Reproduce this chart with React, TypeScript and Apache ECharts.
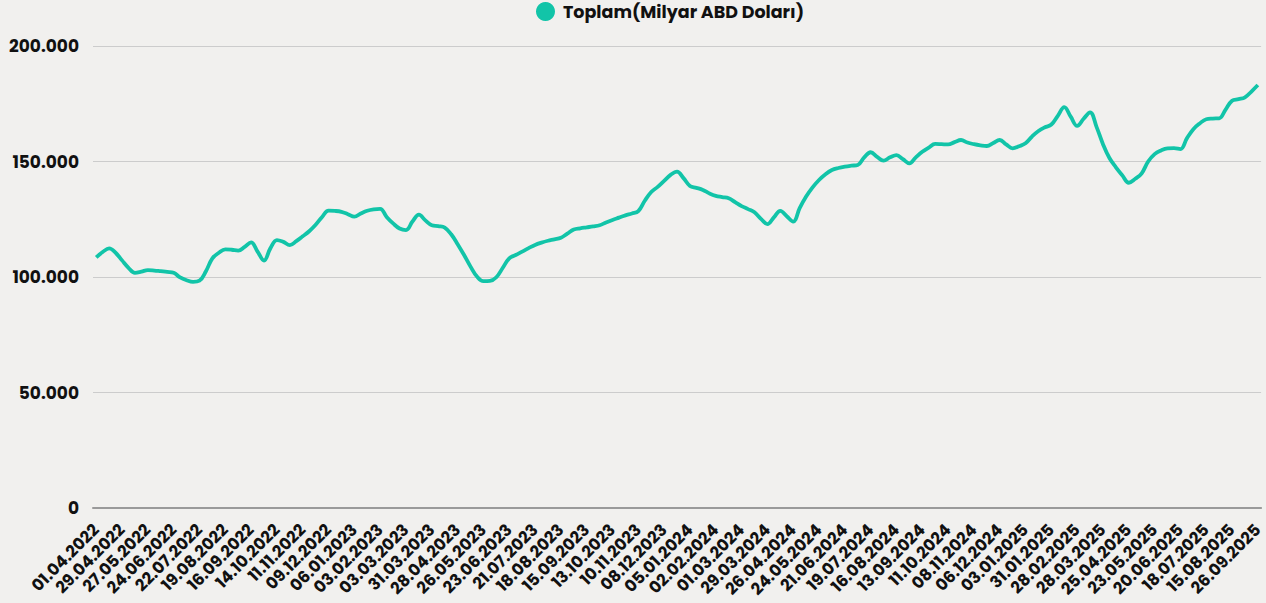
import React, { useEffect, useRef } from "react";
import * as echarts from "echarts";

const seriesName = "Toplam(Milyar ABD Doları)";

// weekly dates from 01.04.2022 to 15.08.2025, then the remaining report dates
const extraDates = ["22.08.2025", "05.09.2025", "19.09.2025", "26.09.2025"];

function buildDates(): string[] {
  const out: string[] = [];
  const d = new Date(Date.UTC(2022, 3, 1));
  const end = new Date(Date.UTC(2025, 7, 15));
  while (d.getTime() <= end.getTime()) {
    const dd = String(d.getUTCDate()).padStart(2, "0");
    const mm = String(d.getUTCMonth() + 1).padStart(2, "0");
    out.push(`${dd}.${mm}.${d.getUTCFullYear()}`);
    d.setUTCDate(d.getUTCDate() + 7);
  }
  return out.concat(extraDates);
}

const categories = buildDates();

const totals = [
  108500, 110800, 112400, 110500, 107200, 104000, 101800, 102300, 103000, 102800,
  102500, 102200, 101800, 99800, 98600, 97900, 98400, 102500, 108100, 110500,
  112000, 111800, 111400, 113000, 115000, 111000, 107100, 112500, 116000, 115200,
  113800, 115500, 117600, 119800, 122600, 126000, 128700, 128600, 128200, 127200,
  126100, 127500, 128700, 129300, 129500, 126000, 123200, 121000, 120300, 124000,
  127000, 124500, 122400, 122000, 121400, 118500, 114200, 109500, 104500, 100200,
  98200, 98300, 99900, 104000, 108100, 109500, 111000, 112500, 113900, 114900,
  115700, 116300, 117000, 118800, 120600, 121100, 121500, 121900, 122400, 123600,
  124700, 125700, 126700, 127500, 128500, 133000, 136800, 139000, 141600, 144200,
  145600, 142800, 139400, 138600, 137700, 136200, 135100, 134600, 134100, 132400,
  130700, 129400, 128000, 125200, 122900, 125800, 128600, 126300, 124000, 129800,
  134800, 138800, 142000, 144500, 146300, 147200, 147800, 148200, 148500, 151800,
  154000, 152000, 150400, 151800, 152800, 151000, 149200, 151800, 154200, 156000,
  157600, 157500, 157400, 158400, 159300, 158200, 157500, 157000, 156700, 158000,
  159300, 157400, 155700, 156600, 157900, 160800, 163200, 164800, 166000, 169800,
  173500, 169400, 165400, 168500, 171300, 165000, 157500, 151500, 147500, 144000,
  140800, 142500, 144900, 150000, 153200, 154800, 155700, 155800, 155400, 160000,
  164000, 166500, 168300, 168600, 168700, 172500, 176300, 177000, 177800, 180300,
  183100,
];

const yMin = 0;
const yMax = 200000;
const yStep = 50000;

const FONT = "Poppins, 'Open Sans', 'Noto Sans', sans-serif";

function fmt(v: number): string {
  return String(Math.round(v)).replace(/\B(?=(\d{3})+(?!\d))/g, ".");
}

export default function App() {
  const ref = useRef<HTMLDivElement>(null);
  useEffect(() => {
    document.body.style.margin = "0";
    const chart = echarts.init(ref.current!, null, { renderer: "svg" });
    chart.setOption({
      animation: false,
      backgroundColor: "#f1f0ee",
      legend: {
        top: 2,
        left: 536,
        padding: 0,
        icon: "circle",
        itemWidth: 19,
        itemHeight: 19,
        itemGap: 10,
        textStyle: { fontFamily: FONT, fontSize: 17.5, fontWeight: "bold", color: "#111", padding: [0, 0, 0, 3] },
        data: [seriesName],
      },
      grid: { left: 93, right: 4, top: 46, bottom: 95 },
      xAxis: {
        type: "category",
        data: categories,
        boundaryGap: true,
        axisTick: { show: false },
        axisLine: { lineStyle: { color: "#9a9a9a", width: 2 } },
        axisLabel: {
          interval: 3,
          rotate: 45,
          margin: 19,
          fontFamily: FONT,
          fontSize: 16.5,
          fontWeight: "bold",
          color: "#111",
        },
      },
      yAxis: {
        type: "value",
        min: yMin,
        max: yMax,
        interval: yStep,
        axisLine: { show: false },
        axisTick: { show: false },
        splitLine: { lineStyle: { color: "#cccccc", width: 1 } },
        axisLabel: {
          margin: 14,
          fontFamily: FONT,
          fontSize: 17,
          fontWeight: "bold",
          color: "#111",
          formatter: (v: number) => fmt(v),
        },
      },
      series: [
        {
          name: seriesName,
          type: "line",
          data: totals,
          smooth: 0.4,
          showSymbol: false,
          symbol: "circle",
          itemStyle: { color: "#12c4a8" },
          lineStyle: { color: "#12c4a8", width: 3.8 },
        },
      ],
    });
    return () => chart.dispose();
  }, []);
  return <div ref={ref} style={{ width: 1266, height: 603 }} />;
}
